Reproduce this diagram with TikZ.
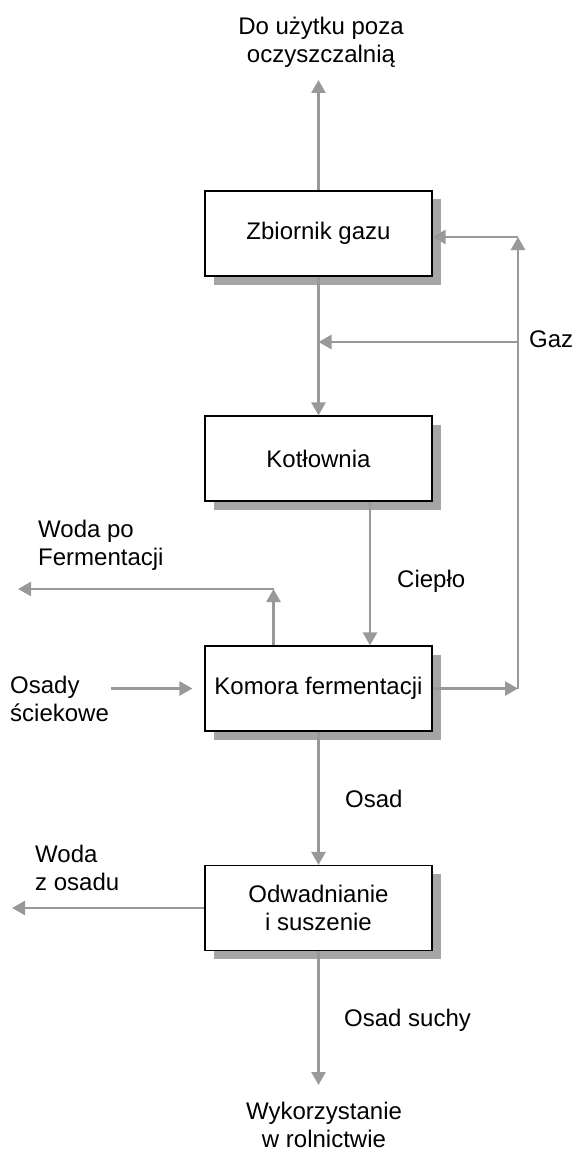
\documentclass[tikz,border=0pt]{standalone}
\usepackage{fontspec}
\setmainfont{Liberation Sans}
\usetikzlibrary{arrows.meta,shadows}
\definecolor{arrowgray}{RGB}{153,153,153}
\definecolor{shadegray}{RGB}{165,165,165}
\begin{document}
\begin{tikzpicture}[x=1pt,y=-1pt,
  lbl/.style={font=\fontsize{24}{28}\selectfont, inner sep=0pt},
  box/.style={lbl, draw=black, line width=1.2pt, fill=white,
    minimum width=227pt, minimum height=85pt, align=center,
    drop shadow={shadow xshift=8.5pt, shadow yshift=-8.5pt, opacity=1, fill=shadegray, draw=none}},
  flow/.style={draw=arrowgray, line width=2.6pt, -{Triangle[width=14pt,length=13pt]}}]
\useasboundingbox (0,0) rectangle (575,1150);

% boxes
\node[box] (zb)  at (318.5,233.5) {Zbiornik gazu};
\node[box] (kot) at (318.5,458.5) {Kotłownia};
\node[box] (kom) at (318.5,688.5) {Komora fermentacji};
\node[box] (odw) at (318.5,908)   {Odwadnianie\\i suszenie};

% labels (anchor base = baseline of the last line)
\node[lbl, anchor=base, align=center] (top) at (321,63) {Do użytku poza\\oczyszczalnią};
\node[lbl, anchor=base, align=center] (bot) at (324,1147) {Wykorzystanie\\w rolnictwie};
\node[lbl, anchor=base west, align=left] (wpf) at (38,565) {Woda po\\Fermentacji};
\node[lbl, anchor=base west, align=left] (osl) at (10,721) {Osady\\ściekowe};
\node[lbl, anchor=base west, align=left] (wzo) at (35,890) {Woda\\z osadu};
\node[lbl, anchor=base west] (gaz) at (529,347) {Gaz};
\node[lbl, anchor=base west] (cie) at (397,587) {Ciepło};
\node[lbl, anchor=base west] (osd) at (345,807) {Osad};
\node[lbl, anchor=base west] (osu) at (344,1026) {Osad suchy};

% free ends and corners
\coordinate (ztop) at (318.5,80);
\coordinate (gazR) at (518,342);
\coordinate (rc)   at (518,688.5);
\coordinate (rt)   at (518,237);
\coordinate (wc)   at (273.5,589);
\coordinate (wl)   at (18,589);
\coordinate (osS)  at (111,688.5);
\coordinate (wzl)  at (12,908);
\coordinate (obot) at (318.5,1085);

% connectors
\draw[flow] (zb.north) -- (ztop);
\draw[flow] (zb.south) -- (kot.north);
\draw[flow] (gazR) -- (gazR -| zb.south);
\draw[flow] (kom.east) -- (rc);
\draw[flow] (rc) -- (rt);
\draw[flow] (rt) -- (rt -| zb.east);
\draw[flow] ([xshift=51.5pt]kot.south) -- ([xshift=51.5pt]kom.north);
\draw[flow] ([xshift=-45pt]kom.north) -- (wc);
\draw[flow] (wc) -- (wl);
\draw[flow] (osS) -- ([xshift=-12pt]kom.west);
\draw[flow] (kom.south) -- (odw.north);
\draw[flow] (odw.west) -- (wzl);
\draw[flow] (odw.south) -- (obot);
\end{tikzpicture}
\end{document}
